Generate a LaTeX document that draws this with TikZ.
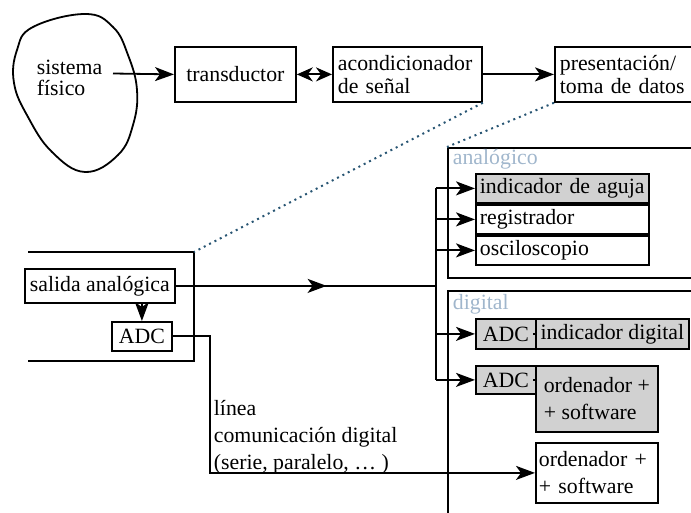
\documentclass[tikz,border=0pt]{standalone}
\usepackage{fontspec}
\setmainfont{Liberation Serif}
\usepackage{tikz}
\usetikzlibrary{arrows.meta,decorations.markings}

\definecolor{grplabel}{RGB}{160,182,204}
\definecolor{dotcol}{RGB}{40,85,115}
\definecolor{shade}{gray}{0.82}

\begin{document}
\begin{tikzpicture}[
  x=0.5pt, y=-0.5pt,
  font=\fontsize{10.9}{13.5}\selectfont,
  line width=0.9pt,
  arr/.style={-{Stealth[length=9.5pt,width=7pt,inset=2.5pt]}},
  dblarr/.style={{Stealth[length=8pt,width=7pt,inset=2.5pt]}-{Stealth[length=8pt,width=7pt,inset=2.5pt]}},
  midarr/.style={postaction={decorate}, decoration={markings, mark=at position 0.58 with {\arrow{Stealth[length=9.5pt,width=7pt,inset=2.5pt]}}}},
  blk/.style={draw, align=left, inner xsep=2.5pt, inner ysep=0pt, anchor=north west},
  topbox/.style={blk, minimum height=27.5pt, font=\fontsize{10.9}{11.5}\selectfont},
  item/.style={blk, minimum height=14.5pt, inner xsep=2pt, text width=82.5pt},
  grp/.style={text=grplabel, anchor=base west, inner sep=0pt},
  grpbox/.style={draw, anchor=north west, minimum width=136.5pt, inner sep=0pt},
  link/.style={dotcol, dotted, line width=1pt}
]
\useasboundingbox (0,0) rectangle (691,513);

% sistema fisico
\draw plot[smooth cycle, tension=0.7] coordinates {(85,14) (113,27) (128,55) (137,90) (133,125) (118,155) (85,172) (52,152) (28,117) (14,83) (17,50) (33,27)};
\node[anchor=north west, align=left, inner sep=0pt, font=\fontsize{10.9}{10.5}\selectfont] (sis) at (36,59) {sistema\\físico};
\coordinate (sisout) at (113,73.5);

% cadena de medida
\node[topbox, minimum width=60.5pt, align=center] (trans) at (174,46) {transductor};
\node[topbox, text width=69.5pt] (acon) at (332,46) {acondicionador\\de señal};
\node[topbox, text width=75pt] (pres) at (554,46) {presentación/\\toma de datos};

\draw[arr] (sisout) -- (trans.west);
\draw[dblarr] (trans) -- (acon);
\draw[arr] (acon) -- (pres);

% salida del acondicionador
\coordinate (brk) at (194,252);
\draw (28,252) -- (brk) -- (194,361) -- (28,361);
\node[blk, minimum width=74pt, minimum height=17pt, align=center] (sal) at (24,268) {salida analógica};
\node[blk, minimum width=30pt, minimum height=14.5pt, align=center] (adc) at (111,321) {ADC};
\draw[arr] (sal.south -| adc) -- (adc);

% grupos
\node[grpbox, minimum height=65pt] (agrp) at (447,147) {};
\node[grpbox, minimum height=125pt] (dgrp) at (447,290) {};
\node[grp] (alab) at (452,165) {analógico};
\node[grp] (dlab) at (452,310) {digital};

\draw[link] (acon.south east) -- (brk);
\draw[link] (pres.south west) -- (agrp.north west);

% analogico
\foreach \n/\txt/\y/\f in {aguja/{indicador de aguja}/173/shade, reg/registrador/204/white, osc/osciloscopio/235/white}
  \node[item, fill=\f] (\n) at (475,\y) {\txt};

% digital
\node[blk, fill=shade, minimum width=30pt, minimum height=15pt, align=center] (adca) at (475,318) {ADC};
\node[blk, fill=shade, inner xsep=2pt, minimum width=76.5pt, minimum height=15pt] (ind) at (535,318) {indicador digital};
\draw (adca.east) -- ++(-4,0);
\node[blk, fill=shade, minimum width=30pt, minimum height=14pt, align=center] (adcb) at (475,365) {ADC};
\node[blk, fill=shade, minimum width=61pt, minimum height=33pt] (orda) at (535,365) {ordenador +\\+ software};
\draw (adcb.east) -- ++(-4,0);
\node[blk, inner xsep=1.5pt, text width=58pt, minimum height=30pt] (ordb) at (535,442) {ordenador +\\+ software};

% conexiones
\coordinate (bx) at (436,0);
\draw[midarr] (sal.east) -- (sal.east -| bx);
\draw (bx |- aguja.west) -- (bx |- adcb.west);
\foreach \n in {aguja,reg,osc,adca,adcb}
  \draw[arr] (bx |- \n.west) -- (\n.west);

\draw[arr] (adc.east) -- ++(37,0) |- (ordb.west);
\node[anchor=north west, align=left, inner sep=0pt] (linea) at (213,399) {línea\\comunicación digital\\(serie, paralelo, … )};
\end{tikzpicture}
\end{document}
